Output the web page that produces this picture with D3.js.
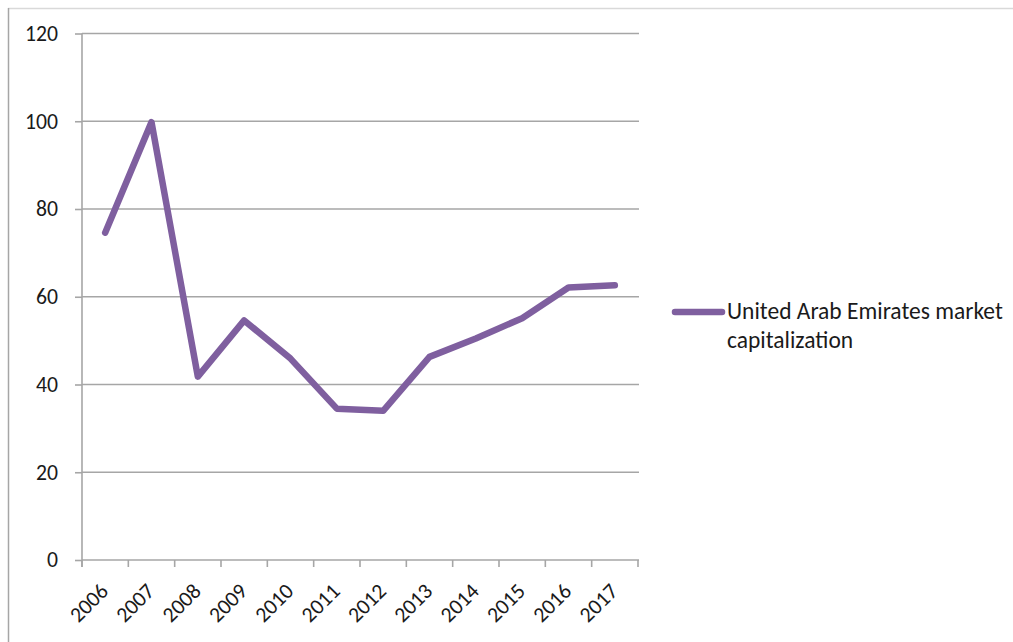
<!DOCTYPE html>
<html><head><meta charset="utf-8">
<script src="https://cdn.jsdelivr.net/npm/d3@7"></script>
<style>body{margin:0;background:#fff}svg{display:block}text{font-family:Carlito,Calibri,"Open Sans","Noto Sans",sans-serif;fill:#1a1a1a}</style>
</head><body><svg id="c" width="1013" height="642"></svg>
<script>
const years = ["2006","2007","2008","2009","2010","2011","2012","2013","2014","2015","2016","2017"];
const marketCap = [74.6, 99.8, 41.8, 54.6, 45.9, 34.5, 34.0, 46.3, 50.5, 55.1, 62.1, 62.6];
const yTicks = [0, 20, 40, 60, 80, 100, 120];
const seriesName = ["United Arab Emirates market", "capitalization"];

const svg = d3.select("#c");
const m = {l: 82, r: 638, t: 33.5, b: 560};
const x = d3.scaleBand().domain(years).range([m.l, m.r]);
const y = d3.scaleLinear().domain([0, 120]).range([m.b, m.t]);

function fitSize(str, target) {
  const t = svg.append("text").attr("font-size", 20).text(str);
  const w = t.node().getComputedTextLength();
  t.remove();
  return 20 * target / w;
}
const axisFs = fitSize("120", 33);
const legendFs = fitSize(seriesName[0], 276);

// frame
svg.append("line").attr("x1", 8).attr("x2", 1013).attr("y1", 8.5).attr("y2", 8.5).attr("stroke", "#d9d9d9").attr("stroke-width", 1.5);
svg.append("line").attr("x1", 8.5).attr("x2", 8.5).attr("y1", 8).attr("y2", 642).attr("stroke", "#a6a6a6").attr("stroke-width", 1.5);

// gridlines
svg.append("g").selectAll("line").data(yTicks.filter(d => d > 0)).join("line")
  .attr("x1", m.l).attr("x2", m.r + 1).attr("y1", d => y(d)).attr("y2", d => y(d))
  .attr("stroke", "#a6a6a6").attr("stroke-width", 1.6);

// y axis
const ya = svg.append("g").attr("transform", `translate(${m.l},0)`)
  .call(d3.axisLeft(y).tickValues(yTicks).tickSize(7).tickPadding(17).tickFormat(d3.format("d")));
ya.select(".domain").remove();
ya.append("line").attr("x1", 0).attr("x2", 0).attr("y1", m.t).attr("y2", m.b + 7).attr("stroke", "#a6a6a6").attr("stroke-width", 1.6);
ya.selectAll(".tick line").attr("stroke", "#a6a6a6").attr("stroke-width", 1.6);
ya.selectAll(".tick text").attr("font-size", axisFs).attr("fill", "#1a1a1a");

// x axis
const xa = svg.append("g").attr("transform", `translate(0,${m.b})`);
xa.append("line").attr("x1", m.l).attr("x2", m.r + 1).attr("y1", 0).attr("y2", 0).attr("stroke", "#a6a6a6").attr("stroke-width", 1.6);
const bounds = years.map(d => x(d)).concat([x(years[years.length - 1]) + x.bandwidth()]);
xa.selectAll("line.t").data(bounds).join("line").attr("class", "t")
  .attr("x1", d => d).attr("x2", d => d).attr("y1", 0).attr("y2", 7).attr("stroke", "#a6a6a6").attr("stroke-width", 1.6);
xa.selectAll("text").data(years).join("text")
  .attr("transform", d => `translate(${x(d) + x.bandwidth() / 2 - 1},${27}) rotate(-45)`)
  .attr("text-anchor", "end").attr("dy", "0.35em").attr("font-size", axisFs).text(d => d);

// line
const line = d3.line().x((d, i) => x(years[i]) + x.bandwidth() / 2).y(d => y(d));
svg.append("path").datum(marketCap).attr("d", line).attr("fill", "none")
  .attr("stroke", "#7f5f9f").attr("stroke-width", 6.5).attr("stroke-linejoin", "round").attr("stroke-linecap", "round");

// legend
const lg = svg.append("g");
lg.append("line").attr("x1", 675).attr("x2", 722).attr("y1", 312).attr("y2", 312)
  .attr("stroke", "#7f5f9f").attr("stroke-width", 6.5).attr("stroke-linecap", "round");
lg.selectAll("text").data(seriesName).join("text")
  .attr("x", 727).attr("y", (d, i) => 319 + i * 29).attr("font-size", legendFs).text(d => d);
</script></body></html>
